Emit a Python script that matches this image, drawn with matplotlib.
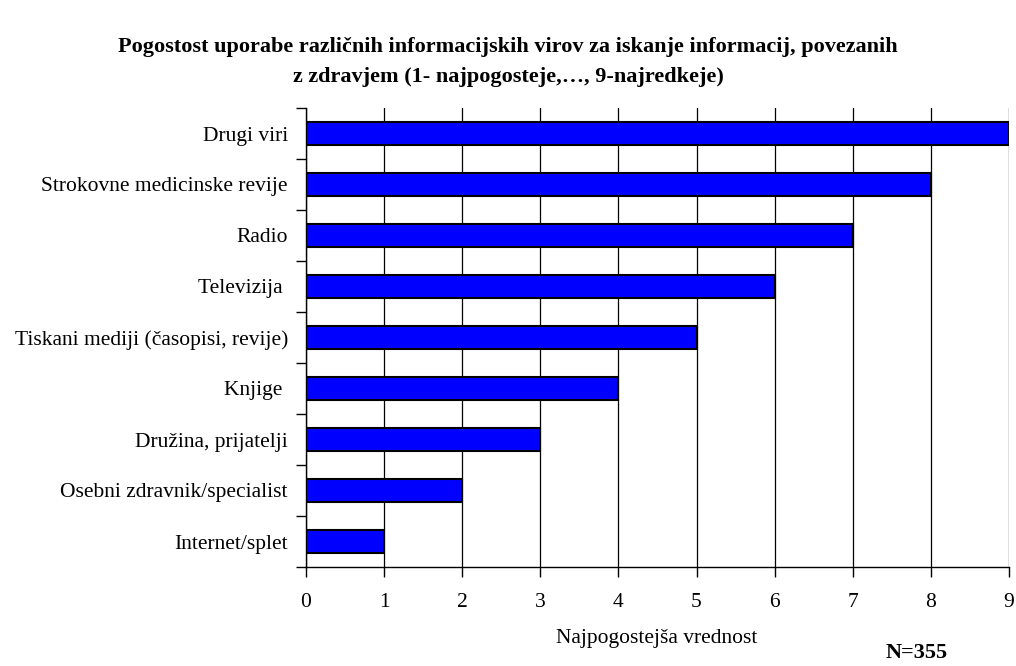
import matplotlib
matplotlib.use("Agg")
import matplotlib.pyplot as plt
import numpy as np

# Information sources and their most frequent rank (1 = most often, 9 = least often)
sources = [
    "Internet/splet",
    "Osebni zdravnik/specialist",
    "Družina, prijatelji",
    "Knjige ",
    "Tiskani mediji (časopisi, revije)",
    "Televizija ",
    "Radio",
    "Strokovne medicinske revije",
    "Drugi viri",
]
ranks = [1, 2, 3, 4, 5, 6, 7, 8, 9]
x_ticks = [0, 1, 2, 3, 4, 5, 6, 7, 8, 9]

plt.rcParams["font.family"] = ["Liberation Serif", "DejaVu Serif"]

fig = plt.figure(figsize=(10.16, 6.66), dpi=100)
ax = fig.add_axes([306 / 1016, 1 - 567 / 666, (1009 - 306) / 1016, (567 - 108) / 666])

y = np.arange(len(sources))
ax.barh(y, ranks, height=0.44, color="#0000FF", edgecolor="black", linewidth=1.5, zorder=3)

ax.set_xlim(0, 9)
ax.set_ylim(-0.5, len(sources) - 0.5)
ax.set_xticks(x_ticks)
ax.set_xticklabels([str(v) for v in x_ticks], fontsize=15.5)
ax.set_yticks(y)
ax.set_yticklabels(sources, fontsize=15.5)
ax.set_yticks(np.arange(-0.5, len(sources), 1), minor=True)

ax.tick_params(axis="y", which="major", length=0, pad=13)
ax.tick_params(axis="y", which="minor", length=7, width=1, direction="out")
ax.tick_params(axis="x", which="major", length=7, width=1, direction="out", pad=12)

ax.grid(axis="x", color="black", linewidth=0.9, zorder=0)
ax.set_axisbelow(True)
for side in ("top", "right"):
    ax.spines[side].set_visible(False)
for side in ("left", "bottom"):
    ax.spines[side].set_linewidth(1)

fig.text(0.5, 1 - 62 / 666,
         "Pogostost uporabe različnih informacijskih virov za iskanje informacij, povezanih\n"
         "z zdravjem (1- najpogosteje,…, 9-najredkeje)",
         ha="center", va="center", fontsize=16, fontweight="bold", linespacing=1.7)

fig.text(657 / 1016, 1 - 639 / 666, "Najpogostejša vrednost", ha="center", va="center", fontsize=15.5)
fig.text(886 / 1016, 1 - 653 / 666, "N=355", ha="left", va="center", fontsize=16, fontweight="bold")

fig.savefig("out.png", dpi=100)
